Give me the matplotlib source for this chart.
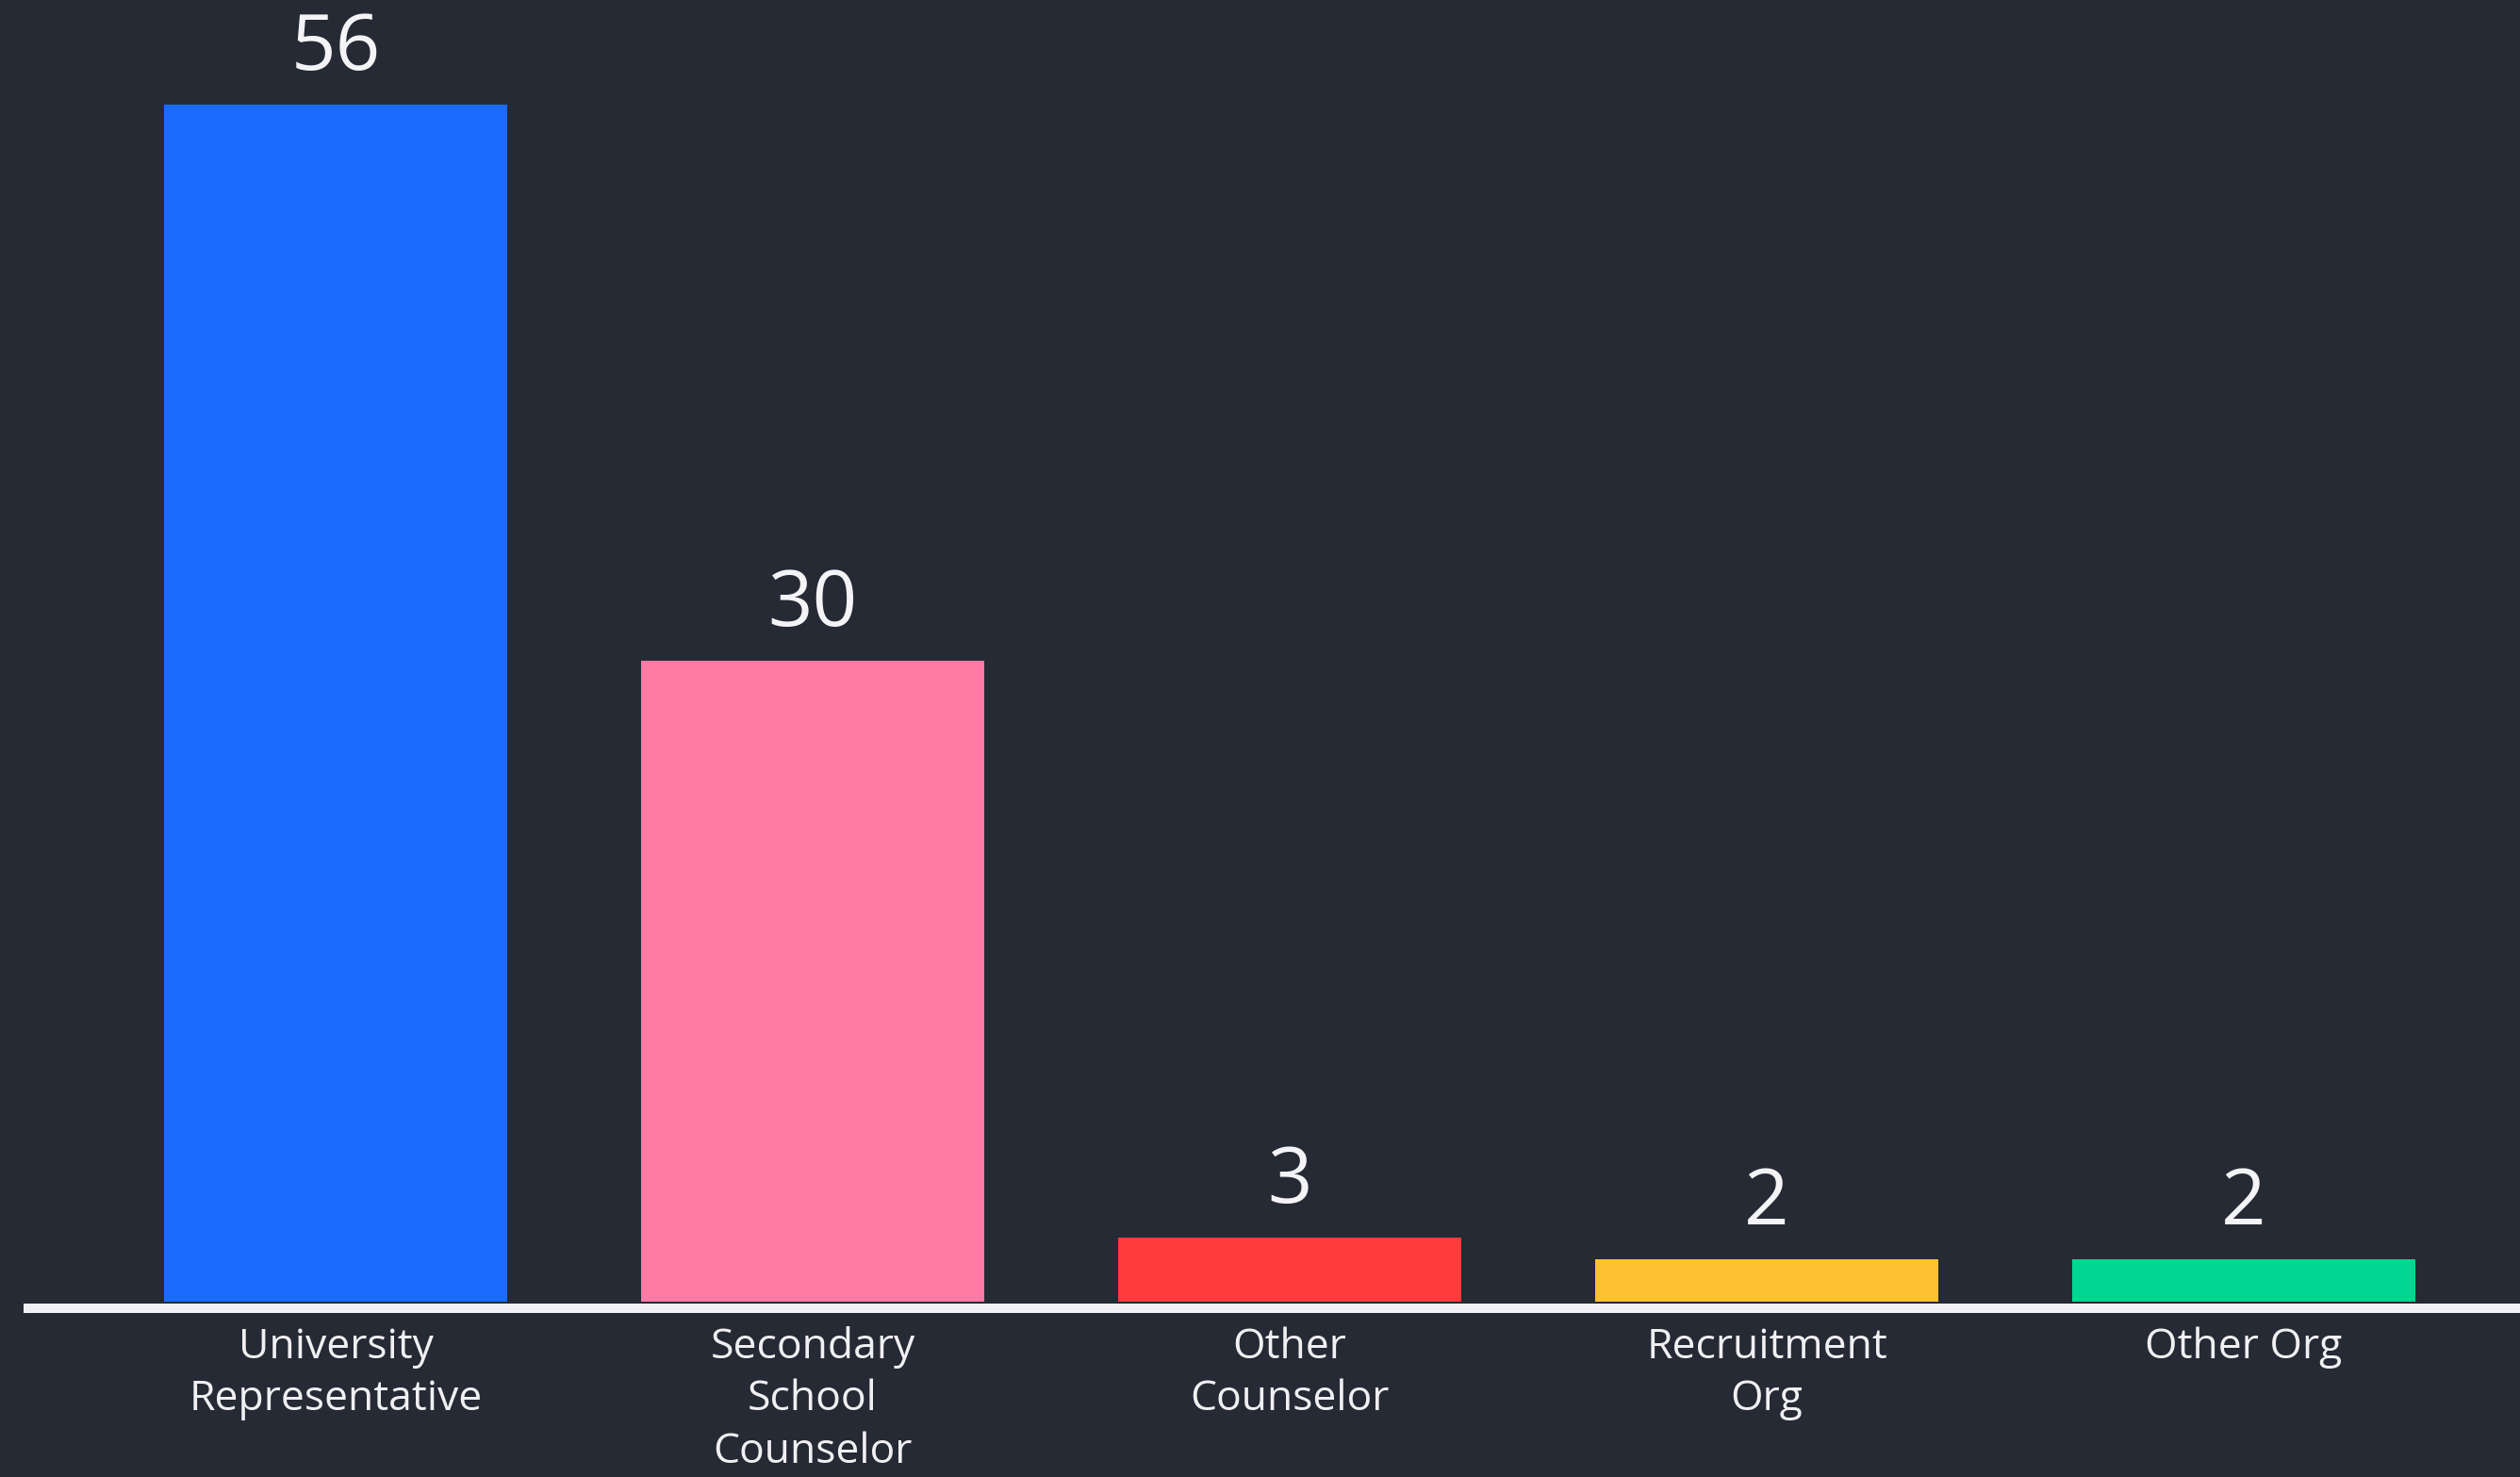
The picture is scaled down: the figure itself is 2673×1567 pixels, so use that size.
import matplotlib
matplotlib.use("Agg")
import matplotlib.pyplot as plt

categories = ["University\nRepresentative", "Secondary\nSchool\nCounselor",
              "Other\nCounselor", "Recruitment\nOrg", "Other Org"]
counts = [56, 30, 3, 2, 2]
colors = ["#1a6bff", "#ff7ba5", "#ff3b3b", "#fdc132", "#00d68f"]

bg = "#262a35"
plt.rcParams['font.family'] = ['Open Sans', 'DejaVu Sans']

fig = plt.figure(figsize=(26.73, 15.67), dpi=100, facecolor=bg)
ax = fig.add_axes([0, 0, 1, 1])
ax.set_facecolor(bg)

x = list(range(len(counts)))
ax.bar(x, counts, width=0.72, color=colors)

# pixel-ish scale: 1 category = 506 px, 1 unit = 22.68 px
ax.set_xlim(-0.7036, 4.579)
ax.set_ylim(-8.2, 60.89)
ax.axis('off')

ax.axhline(-0.31, xmin=30 / 2673, xmax=1, color="#f0f0f5", lw=7.2)

for i, v in zip(x, counts):
    ax.annotate(str(v), (i, v), xytext=(0, 12), textcoords='offset points',
                ha='center', va='bottom', fontsize=60, color="#f4f4f6")

for i, lab in zip(x, categories):
    ax.text(i, -1.15, lab, ha='center', va='top', fontsize=32,
            color="#f0f0f3", linespacing=1.32)

fig.savefig("out.png", dpi=100, facecolor=bg)
